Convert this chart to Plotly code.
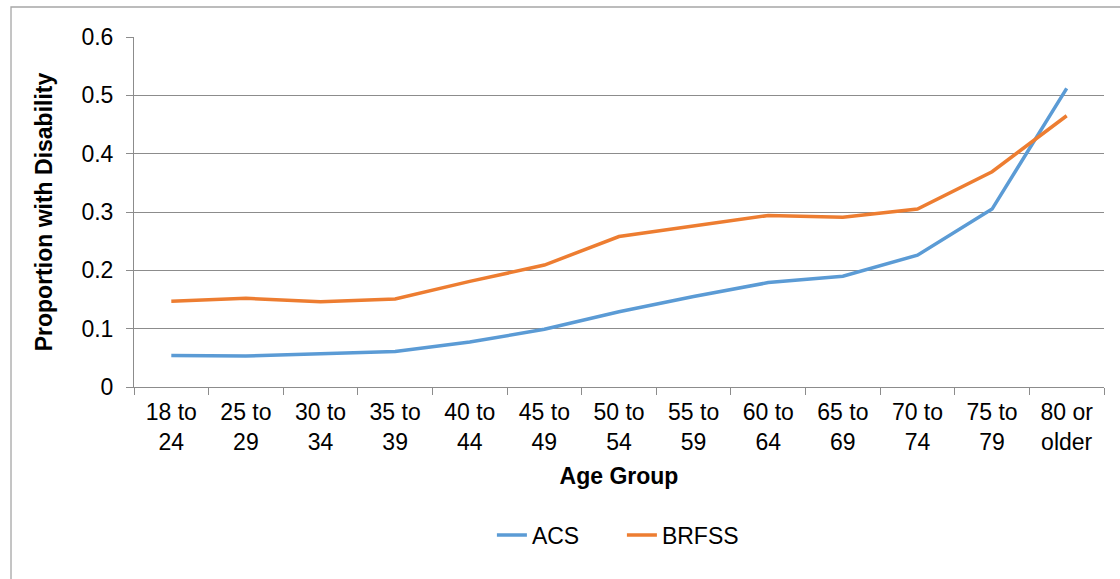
import plotly.graph_objects as go

# Age groups (two-line tick labels)
age_groups = ["18 to<br>24", "25 to<br>29", "30 to<br>34", "35 to<br>39", "40 to<br>44",
              "45 to<br>49", "50 to<br>54", "55 to<br>59", "60 to<br>64", "65 to<br>69",
              "70 to<br>74", "75 to<br>79", "80 or<br>older"]

acs = [0.054, 0.053, 0.057, 0.061, 0.077, 0.099, 0.129, 0.155, 0.179, 0.190, 0.226, 0.305, 0.512]
brfss = [0.147, 0.152, 0.146, 0.151, 0.181, 0.209, 0.258, 0.276, 0.294, 0.291, 0.305, 0.369, 0.465]

y_ticks = [0, 0.1, 0.2, 0.3, 0.4, 0.5, 0.6]
y_tick_text = ["0", "0.1", "0.2", "0.3", "0.4", "0.5", "0.6"]

FONT = "Liberation Sans, Arial, sans-serif"
GRID = "#8c8c8c"
FS = 23

fig = go.Figure()
fig.add_trace(go.Scatter(x=age_groups, y=acs, mode="lines", name="ACS",
                         line=dict(color="#5B9BD5", width=3.5)))
fig.add_trace(go.Scatter(x=age_groups, y=brfss, mode="lines", name="BRFSS",
                         line=dict(color="#ED7D31", width=3.5)))

fig.update_layout(
    width=1120, height=579,
    margin=dict(l=134, r=16, t=37, b=192),
    paper_bgcolor="white", plot_bgcolor="white",
    font=dict(family=FONT, size=FS, color="black"),
    showlegend=True,
    legend=dict(orientation="h", x=0.503, xanchor="center", y=-0.423, yanchor="middle",
                font=dict(size=FS), tracegroupgap=0, entrywidth=85),
    xaxis=dict(
        type="category", tickson="boundaries", ticks="outside", ticklen=7,
        tickcolor=GRID, showline=True, linecolor=GRID, linewidth=1,
        showgrid=False, tickfont=dict(size=FS), ticklabelstandoff=4,
        title=dict(text="<b>Age Group</b>", font=dict(size=FS), standoff=14),
        range=[-0.5, 12.5],
    ),
    yaxis=dict(
        range=[0, 0.6], tickvals=y_ticks, ticktext=y_tick_text,
        ticks="outside", ticklen=7, tickcolor=GRID,
        showgrid=True, gridcolor=GRID, gridwidth=1,
        showline=True, linecolor=GRID, linewidth=1, zeroline=False,
        tickfont=dict(size=FS), ticklabelstandoff=8,
        title=dict(text="<b>Proportion with Disability</b>", font=dict(size=FS), standoff=22),
    ),
    shapes=[dict(type="rect", xref="paper", yref="paper",
                 x0=-0.1268, x1=1.2, y0=-0.8, y1=1.0857,
                 line=dict(color="#a6a6a6", width=1.3), fillcolor="rgba(0,0,0,0)",
                 layer="below")],
)

fig.write_html("out.html")
